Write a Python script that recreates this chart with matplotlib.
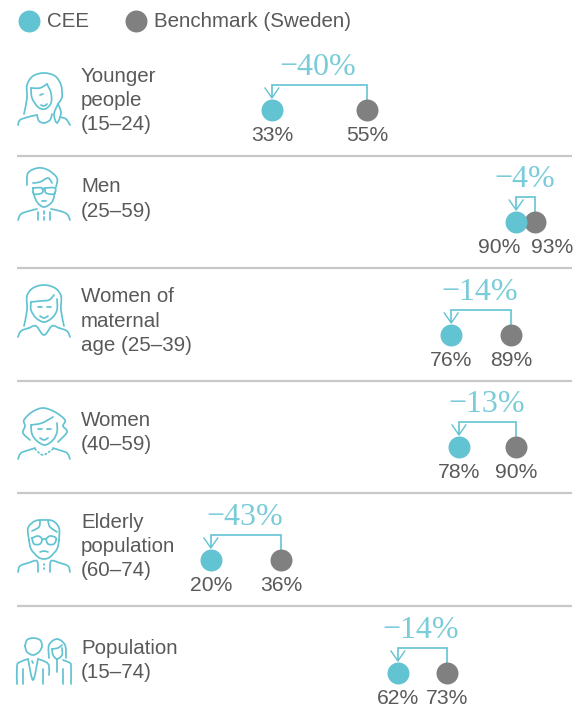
import numpy as np
import matplotlib
matplotlib.use('Agg')
import matplotlib.pyplot as plt
from matplotlib.path import Path
from matplotlib.patches import PathPatch

# Data
group_labels = ["Younger\npeople\n(15–24)", "Men\n(25–59)", "Women of\nmaternal\nage (25–39)",
                "Women\n(40–59)", "Elderly\npopulation\n(60–74)", "Population\n(15–74)"]
cee_labels = ["33%", "90%", "76%", "78%", "20%", "62%"]
bench_labels = ["55%", "93%", "89%", "90%", "36%", "73%"]
gap_labels = ["−40%", "−4%", "−14%", "−13%", "−43%", "−14%"]
# dot positions
cee_pos = [33.0, 89.8, 74.7, 76.5, 18.8, 62.3]
bench_pos = [55.1, 94.2, 88.6, 89.8, 35.1, 73.7]

TEAL = "#62c3d2"
GREY = "#808080"
TEXT = "#595959"
RULE = "#c8c8c8"
FONT = "Liberation Sans"
SERIF = "Liberation Serif"
DOT = 250
FS = 14.8

W, H = 587, 717
row_y = [110, 222, 335, 447, 560, 673]
rule_y = [156, 268, 381, 493, 606]
label_top = [76, 187, 297, 420, 522, 648]
icon_top = [73, 168, 285, 407, 520, 637]
LINE_H = 24.3

fig = plt.figure(figsize=(W / 100, H / 100), dpi=100, facecolor="white")
bg = fig.add_axes([0, 0, 1, 1])
bg.set_xlim(0, W)
bg.set_ylim(H, 0)
bg.axis("off")

# dots live on a percent scale sharing the same canvas
ax = fig.add_axes([0, 0, 1, 1], sharey=bg)
ax.set_xlim(-30.23, 106.28)
ax.patch.set_alpha(0)
ax.axis("off")


def curve(pts):
    # catmull-rom through the points
    pts = np.array(pts, float)
    p = np.vstack([pts[0], pts, pts[-1]])
    verts = [pts[0]]
    codes = [Path.MOVETO]
    for i in range(1, len(p) - 2):
        verts += [p[i] + (p[i + 1] - p[i - 1]) / 6, p[i + 1] - (p[i + 2] - p[i]) / 6, p[i + 1]]
        codes += [Path.CURVE4] * 3
    return Path(verts, codes)


def draw_icon(strokes, dx, dy, ls="-"):
    for s in strokes:
        pts = [(x + dx, y + dy) for x, y in s]
        bg.add_patch(PathPatch(curve(pts), fill=False, ec=TEAL, lw=1.25, ls=ls, capstyle="round"))


eyes = [[(20, 22), (24, 22)], [(29, 22), (33, 22)]]
smile = [[(22, 31), (26, 33), (30, 31)]]

young = [[(6, 41), (9, 25), (9, 12), (15, 3), (26, 0), (37, 3), (43, 12), (44, 24), (40, 31)],
         [(13, 15), (22, 15), (29, 11)], [(29, 11), (33, 20), (33, 30), (27, 36), (20, 34), (14, 25), (13, 15)],
         [(40, 31), (36, 41), (39, 50), (43, 40), (40, 31)],
         [(0, 52), (2, 47), (10, 44), (19, 42)], [(19, 42), (21, 48), (26, 50), (32, 47), (34, 41)],
         [(42, 44), (48, 46), (52, 52)], [(22, 22), (25, 21)], [(23, 32), (26, 33), (29, 31)]]

men = [[(9, 17), (10, 5), (20, 0), (30, 2), (39, 10), (38, 19)],
       [(15, 15), (22, 14), (30, 10), (34, 15)],
       [(15, 24), (19, 34), (26, 39), (34, 34), (37, 24)],
       [(15, 20), (24, 20), (24, 25), (16, 26), (15, 20)],
       [(27, 20), (37, 20), (36, 26), (28, 25), (27, 20)], [(24, 21), (27, 21)],
       [(24, 33), (28, 33)],
       [(0, 52), (3, 46), (11, 43), (19, 41)], [(33, 41), (42, 43), (49, 46), (52, 52)],
       [(26, 43), (26, 46)], [(26, 49), (26, 52)], [(20, 44), (20, 52)], [(32, 44), (32, 52)]]

maternal = [[(6, 41), (9, 25), (9, 11), (15, 3), (26, 0), (37, 3), (43, 11), (43, 25), (46, 41)],
            [(13, 17), (22, 16), (31, 15), (36, 10)], [(13, 17), (13, 25), (18, 33), (26, 37), (34, 33), (39, 25), (39, 14)],
            [(0, 52), (3, 46), (11, 43)], [(11, 43), (18, 41), (26, 50), (34, 41), (41, 43)], [(41, 43), (49, 46), (52, 52)],
            *eyes, *smile]

mature = [[(12, 33), (5, 26), (7, 19), (6, 13), (14, 5), (25, 1), (37, 5), (47, 13), (45, 19), (49, 25), (40, 35)],
          [(13, 18), (24, 16), (35, 10)], [(13, 18), (14, 27), (19, 34), (27, 38), (35, 33), (39, 25), (39, 16)],
          [(0, 52), (3, 46), (11, 43), (17, 41)], [(35, 41), (41, 43), (49, 46), (52, 52)],
          *eyes, *smile]
pearls = [[(17, 42), (25, 48), (35, 42)]]

elder = [[(11, 20), (10, 8), (17, 1), (26, 0), (35, 1), (41, 8), (41, 20)], [(22, 1), (21, 7), (14, 11)], [(30, 1), (32, 7), (39, 12)],
         [(11, 20), (13, 29), (20, 37), (26, 39), (32, 37), (39, 29), (41, 20)],
         [(14, 18), (20, 16), (24, 19), (22, 24), (16, 24), (14, 18)],
         [(28, 19), (32, 16), (38, 18), (36, 24), (30, 24), (28, 19)], [(24, 19), (28, 19)],
         [(22, 32), (26, 31), (30, 32)],
         [(0, 52), (2, 46), (10, 43), (19, 41), (20, 52)], [(32, 52), (33, 41), (42, 43), (50, 46), (52, 52)],
         [(26, 44), (26, 45)], [(26, 48), (26, 49)]]

couple = [[(9, 9), (11, 3), (17, 1), (24, 3), (26, 9), (23, 15), (17, 18), (11, 15), (9, 9)],
          [(1, 47), (1, 29), (4, 25), (12, 22)], [(12, 22), (17, 43), (22, 22)], [(22, 22), (30, 25), (33, 29), (33, 38)],
          [(7, 32), (7, 47)], [(27, 32), (27, 47)], [(16, 24), (17, 26)],
          [(33, 21), (33, 8), (41, 2), (49, 8), (50, 21)],
          [(36, 12), (37, 18), (41, 22), (46, 18), (46, 11)], [(36, 12), (42, 11), (46, 8)],
          [(41, 22), (41, 35)], [(47, 23), (54, 26), (55, 30), (55, 47)], [(47, 32), (47, 47)]]

icons = [young, men, maternal, mature, elder, couple]
icon_x = [18, 18, 18, 18, 18, 16]

# legend
bg.scatter([29], [21], s=DOT, color=TEAL, lw=0)
bg.text(47, 21.5, "CEE", fontsize=FS, family=FONT, color=TEXT, va="center")
bg.scatter([136], [21], s=DOT, color=GREY, lw=0)
bg.text(154, 21.5, "Benchmark (Sweden)", fontsize=FS, family=FONT, color=TEXT, va="center")

for y in rule_y:
    bg.plot([17, 572], [y, y], color=RULE, lw=1.6, solid_capstyle="butt")

draw_icon(pearls, icon_x[3], icon_top[3], ls=(0, (0.8, 1.6)))

for i, lab in enumerate(group_labels):
    draw_icon(icons[i], icon_x[i], icon_top[i])
    for j, part in enumerate(lab.split("\n")):
        bg.text(81, label_top[i] + j * LINE_H, part, fontsize=FS, family=FONT, color=TEXT, va="center")

    y = row_y[i]
    a, b = cee_pos[i], bench_pos[i]
    ax.scatter([b], [y], s=DOT, color=GREY, lw=0, zorder=3)
    ax.scatter([a], [y], s=DOT, color=TEAL, lw=0, zorder=4)
    # bracket from benchmark to CEE
    top = y - 25
    ax.plot([b, b, a, a], [y - 10, top, top, y - 13], color=TEAL, lw=1.2, solid_joinstyle="miter")
    ax.plot([a - 1.6, a, a + 1.6], [y - 22, y - 12, y - 22], color=TEAL, lw=1.0)
    mid = (a + b) / 2
    ax.text(mid - 0.3, y - 42.5, gap_labels[i], fontsize=23, family=SERIF, color=TEAL, ha="center", va="center", alpha=.85)
    # the Men dots sit too close, so their labels are pushed apart
    shift = 3.95 if i == 1 else 0
    ax.text(a - shift, y + 25.5, cee_labels[i], fontsize=15.2, family=FONT, color=TEXT, ha="center", va="center")
    ax.text(b + shift, y + 25.5, bench_labels[i], fontsize=15.2, family=FONT, color=TEXT, ha="center", va="center")

fig.savefig("out.png", dpi=100)
